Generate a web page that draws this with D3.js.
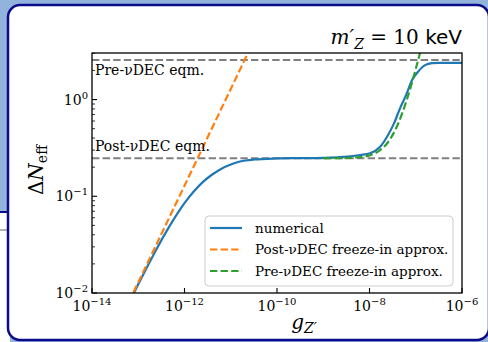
<!DOCTYPE html>
<html><head><meta charset="utf-8">
<script src="https://cdn.jsdelivr.net/npm/d3@7"></script>
<style>
html,body{margin:0;padding:0;background:#92b3db;}
svg{display:block;}
</style></head>
<body>
<svg id="chart" width="488" height="342"></svg>
<script>
// ---- data ----
const xTickValues = [1e-14, 1e-12, 1e-10, 1e-8, 1e-6];
const xTickExps = ["\u221214", "\u221212", "\u221210", "\u22128", "\u22126"];
const yTickValues = [1e-2, 1e-1, 1e0];
const yTickExps = ["\u22122", "\u22121", "0"];

const numericalLogG = [-13.2,-13.0,-12.8,-12.6,-12.4,-12.2,-12.0,-11.8,-11.6,-11.4,-11.2,-11.0,-10.8,-10.5,-10.0,-9.5,-9.0,-8.64,-8.2,-7.99,-7.77,-7.62,-7.47,-7.34,-7.21,-7.08,-6.95,-6.80,-6.65,-6.48,-6.0];
const numericalDN = [0.0079,0.0123,0.0189,0.0287,0.0426,0.0613,0.085,0.112,0.141,0.168,0.193,0.213,0.229,0.240,0.246,0.248,0.250,0.254,0.267,0.278,0.325,0.413,0.567,0.811,1.11,1.59,1.94,2.27,2.38,2.40,2.40];

const postLogG = [-13.3, -12.5, -11.5, -10.5];
const postDN = [0.00646, 0.0407, 0.407, 4.07];

const preLogG = [-9.0,-8.6,-8.3,-8.0,-7.8,-7.6,-7.4,-7.2,-7.0,-6.85];
const preDN = [0.247,0.248,0.252,0.265,0.293,0.362,0.536,0.973,2.07,3.88];

const preEqm = 2.56;
const postEqm = 0.247;

const legendLabels = ["numerical", "Post-\u03bdDEC freeze-in approx.", "Pre-\u03bdDEC freeze-in approx."];
const seriesColors = ["#1f77b4", "#ff7f0e", "#2ca02c"];

// ---- drawing ----
const svg = d3.select("#chart");
const serif = "'DejaVu Serif', serif";

// page decoration
svg.append("rect").attr("x",0).attr("y",212).attr("width",10).attr("height",130).attr("fill","#ffffff");
svg.append("line").attr("x1",0).attr("x2",8).attr("y1",212).attr("y2",212).attr("stroke","#0a0a8a").attr("stroke-width",2);
svg.append("line").attr("x1",0).attr("x2",8).attr("y1",230).attr("y2",230).attr("stroke","#666").attr("stroke-width",1);
svg.append("rect").attr("x",8).attr("y",5).attr("width",481).attr("height",335).attr("rx",12)
  .attr("fill","#ffffff").attr("stroke","#0a0a8a").attr("stroke-width",2.5);

const L = 92, R = 462, T = 53, B = 293;
const x = d3.scaleLog().domain([1e-14, 1e-6]).range([L, R]);
const y = d3.scaleLog().domain([1e-2, 3.03]).range([B, T]);

svg.append("defs").append("clipPath").attr("id","clip")
  .append("rect").attr("x",L).attr("y",T).attr("width",R-L).attr("height",B-T);

const plot = svg.append("g").attr("clip-path","url(#clip)");

// equilibrium lines
[preEqm, postEqm].forEach(v => {
  plot.append("line").attr("x1",L).attr("x2",R).attr("y1",y(v)).attr("y2",y(v))
    .attr("stroke","#808080").attr("stroke-width",2).attr("stroke-dasharray","7.4,3.2");
});

const line = d3.line().x(d => x(Math.pow(10, d[0]))).y(d => y(d[1])).curve(d3.curveMonotoneX);

plot.append("path").datum(numericalLogG.map((g,i)=>[g, numericalDN[i]]))
  .attr("d", line).attr("fill","none").attr("stroke",seriesColors[0]).attr("stroke-width",2.2);
plot.append("path").datum(postLogG.map((g,i)=>[g, postDN[i]]))
  .attr("d", line).attr("fill","none").attr("stroke",seriesColors[1]).attr("stroke-width",2.2)
  .attr("stroke-dasharray","7.4,3.2");
plot.append("path").datum(preLogG.map((g,i)=>[g, preDN[i]]))
  .attr("d", line).attr("fill","none").attr("stroke",seriesColors[2]).attr("stroke-width",2.2)
  .attr("stroke-dasharray","7.4,3.2");

// annotations
svg.append("text").attr("x",95).attr("y",75).attr("font-family",serif).attr("font-size",14)
  .text("Pre-\u03bdDEC eqm.");
svg.append("text").attr("x",95).attr("y",151).attr("font-family",serif).attr("font-size",14)
  .text("Post-\u03bdDEC eqm.");

// axes frame
svg.append("rect").attr("x",L).attr("y",T).attr("width",R-L).attr("height",B-T)
  .attr("fill","none").attr("stroke","#000").attr("stroke-width",1.3);

// x ticks (inward)
const xAxis = svg.append("g");
xTickValues.forEach((v,i) => {
  const px = x(v);
  xAxis.append("line").attr("x1",px).attr("x2",px).attr("y1",B).attr("y2",B-5).attr("stroke","#000").attr("stroke-width",1.1);
  const t = xAxis.append("text").attr("x",px).attr("y",B+18).attr("text-anchor","middle")
    .attr("font-family",serif).attr("font-size",14);
  t.append("tspan").text("10");
  t.append("tspan").attr("dy",-6).attr("font-size",10).text(xTickExps[i]);
});

// y ticks (inward) with minors
const yAxis = svg.append("g");
yTickValues.forEach((v,i) => {
  const py = y(v);
  yAxis.append("line").attr("x1",L).attr("x2",L+5).attr("y1",py).attr("y2",py).attr("stroke","#000").attr("stroke-width",1.1);
  const t = yAxis.append("text").attr("x",L-4).attr("y",py+5).attr("text-anchor","end")
    .attr("font-family",serif).attr("font-size",14);
  t.append("tspan").text("10");
  t.append("tspan").attr("dy",-6).attr("font-size",10).text(yTickExps[i]);
});
const yMinor = [];
[1e-2, 1e-1, 1e0].forEach(d => { for (let k=2;k<=9;k++){ const v=d*k; if (v<=3.03) yMinor.push(v);} });
yMinor.forEach(v => {
  yAxis.append("line").attr("x1",L).attr("x2",L+3).attr("y1",y(v)).attr("y2",y(v)).attr("stroke","#000").attr("stroke-width",0.8);
});

// axis labels
const xl = svg.append("text").attr("x",304).attr("y",329).attr("text-anchor","middle")
  .attr("font-family",serif).attr("font-size",20);
xl.append("tspan").attr("font-style","italic").text("g");
xl.append("tspan").attr("font-style","italic").attr("font-size",14).attr("dy",4).text("Z\u2032");

const yl = svg.append("text").attr("transform","translate(43,170) rotate(-90)").attr("text-anchor","middle")
  .attr("font-family",serif).attr("font-size",20);
yl.append("tspan").text("\u0394");
yl.append("tspan").attr("font-style","italic").text("N");
yl.append("tspan").attr("font-size",14).attr("dy",4).text("eff");

// title
const tt = svg.append("text").attr("x",R).attr("y",44).attr("text-anchor","end").attr("font-size",20);
tt.append("tspan").attr("font-family",serif).attr("font-style","italic").text("m\u2032");
tt.append("tspan").attr("font-family",serif).attr("font-style","italic").attr("font-size",14).attr("dy",5).text("Z");
tt.append("tspan").attr("font-family",serif).attr("dy",-5).text(" = 10 ");
tt.append("tspan").attr("font-family","'DejaVu Sans', sans-serif").text("keV");

// legend
const lg = svg.append("g");
lg.append("rect").attr("x",205).attr("y",216).attr("width",248).attr("height",70).attr("rx",4)
  .attr("fill","#fff").attr("fill-opacity",0.8).attr("stroke","#cccccc").attr("stroke-width",1);
legendLabels.forEach((lab,i) => {
  const ly = 228 + i*21.5;
  lg.append("line").attr("x1",210).attr("x2",242).attr("y1",ly).attr("y2",ly)
    .attr("stroke",seriesColors[i]).attr("stroke-width",2.2)
    .attr("stroke-dasharray", i===0 ? null : "7.4,3.2");
  lg.append("text").attr("x",255).attr("y",ly+4.5).attr("font-family",serif).attr("font-size",13.5).text(lab);
});
</script>
</body></html>
